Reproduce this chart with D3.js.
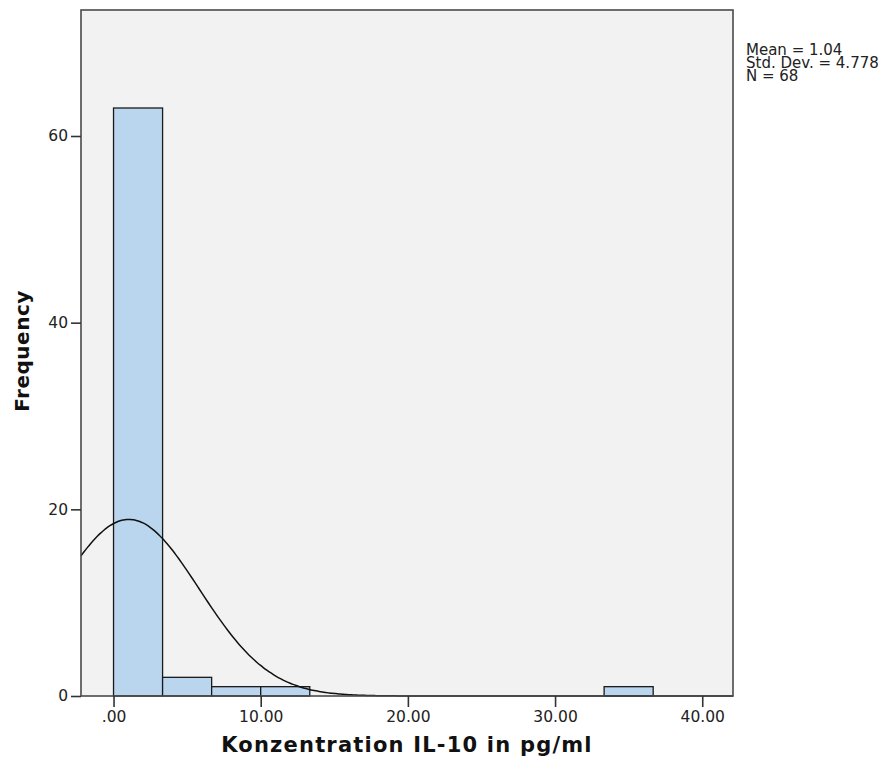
<!DOCTYPE html>
<html>
<head>
<meta charset="utf-8">
<script src="https://cdn.jsdelivr.net/npm/d3@7"></script>
<style>
  body { margin: 0; background: #fff; }
  text { font-family: "DejaVu Sans", sans-serif; }
</style>
</head>
<body>
<svg id="chart" width="896" height="769"></svg>
<script>
// histogram bins (pg/ml) and counts
var binStarts = [0, 10 / 3, 20 / 3, 10, 100 / 3];
var binWidth = 10 / 3;
var counts = [63, 2, 1, 1, 1];
var xTicks = [0, 10, 20, 30, 40];
var yTicks = [0, 20, 40, 60];
var mean = 1.04, sd = 4.778, n = 68;
var statLines = ["Mean = 1.04", "Std. Dev. = 4.778", "N = 68"];

var svg = d3.select("#chart");
var margin = { left: 81, top: 10, right: 896 - 733, bottom: 769 - 696 };
var w = 896 - margin.left - margin.right,
    h = 769 - margin.top - margin.bottom;

var x = d3.scaleLinear().domain([-2.21, 42.09]).range([0, w]);
var y = d3.scaleLinear().domain([0, 73.5]).range([h, 0]);

var g = svg.append("g").attr("transform", `translate(${margin.left},${margin.top})`);

// plot background
g.append("rect")
    .attr("width", w).attr("height", h)
    .style("fill", "#f2f2f2");

// bars
g.selectAll(".bar")
    .data(binStarts)
    .enter()
    .append("rect")
    .attr("x", d => x(d))
    .attr("width", d => x(d + binWidth) - x(d))
    .attr("y", (d, i) => y(counts[i]))
    .attr("height", (d, i) => y(0) - y(counts[i]))
    .style("fill", "#bad6ee")
    .style("stroke", "#1a1a1a")
    .style("stroke-width", 1.3);

// normal curve
var curveX = d3.range(0, 201).map(i => -2.21 + i * (42.09 + 2.21) / 200);
var scale = n * binWidth / (sd * Math.sqrt(2 * Math.PI));
var line = d3.line()
    .x(d => x(d))
    .y(d => y(scale * Math.exp(-0.5 * Math.pow((d - mean) / sd, 2))))
    .curve(d3.curveBasis);
g.append("path")
    .datum(curveX)
    .attr("d", line)
    .style("fill", "none")
    .style("stroke", "#111")
    .style("stroke-width", 1.5);

// frame
g.append("rect")
    .attr("width", w).attr("height", h)
    .style("fill", "none")
    .style("stroke", "#4a4a4a")
    .style("stroke-width", 1.6);

// axes
var xAxis = g.append("g")
    .attr("transform", `translate(0,${h})`)
    .call(d3.axisBottom(x).tickValues(xTicks).tickSize(11).tickPadding(4)
        .tickFormat(d => d === 0 ? ".00" : d3.format(".2f")(d)));
var yAxis = g.append("g")
    .call(d3.axisLeft(y).tickValues(yTicks).tickSize(10).tickPadding(3));

[xAxis, yAxis].forEach(a => {
    a.select(".domain").remove();
    a.selectAll(".tick line").style("stroke", "#333").style("stroke-width", 1.6);
    a.selectAll(".tick text").style("font-size", "15.5px").style("fill", "#222");
});

// axis titles
svg.append("text")
    .attr("x", margin.left + w / 2)
    .attr("y", 752)
    .attr("text-anchor", "middle")
    .style("font-size", "21px")
    .style("font-weight", "bold")
    .style("letter-spacing", "1.2px")
    .style("fill", "#111")
    .text("Konzentration IL-10 in pg/ml");

svg.append("text")
    .attr("transform", `translate(29,${351}) rotate(-90)`)
    .attr("text-anchor", "middle")
    .style("font-size", "20px")
    .style("font-weight", "bold")
    .style("letter-spacing", "0.5px")
    .style("fill", "#111")
    .text("Frequency");

// stats
svg.append("g")
    .selectAll("text")
    .data(statLines)
    .enter()
    .append("text")
    .attr("x", 746)
    .attr("y", (d, i) => 54.5 + i * 13)
    .style("font-size", "15px")
    .style("fill", "#222")
    .text(d => d);
</script>
</body>
</html>
